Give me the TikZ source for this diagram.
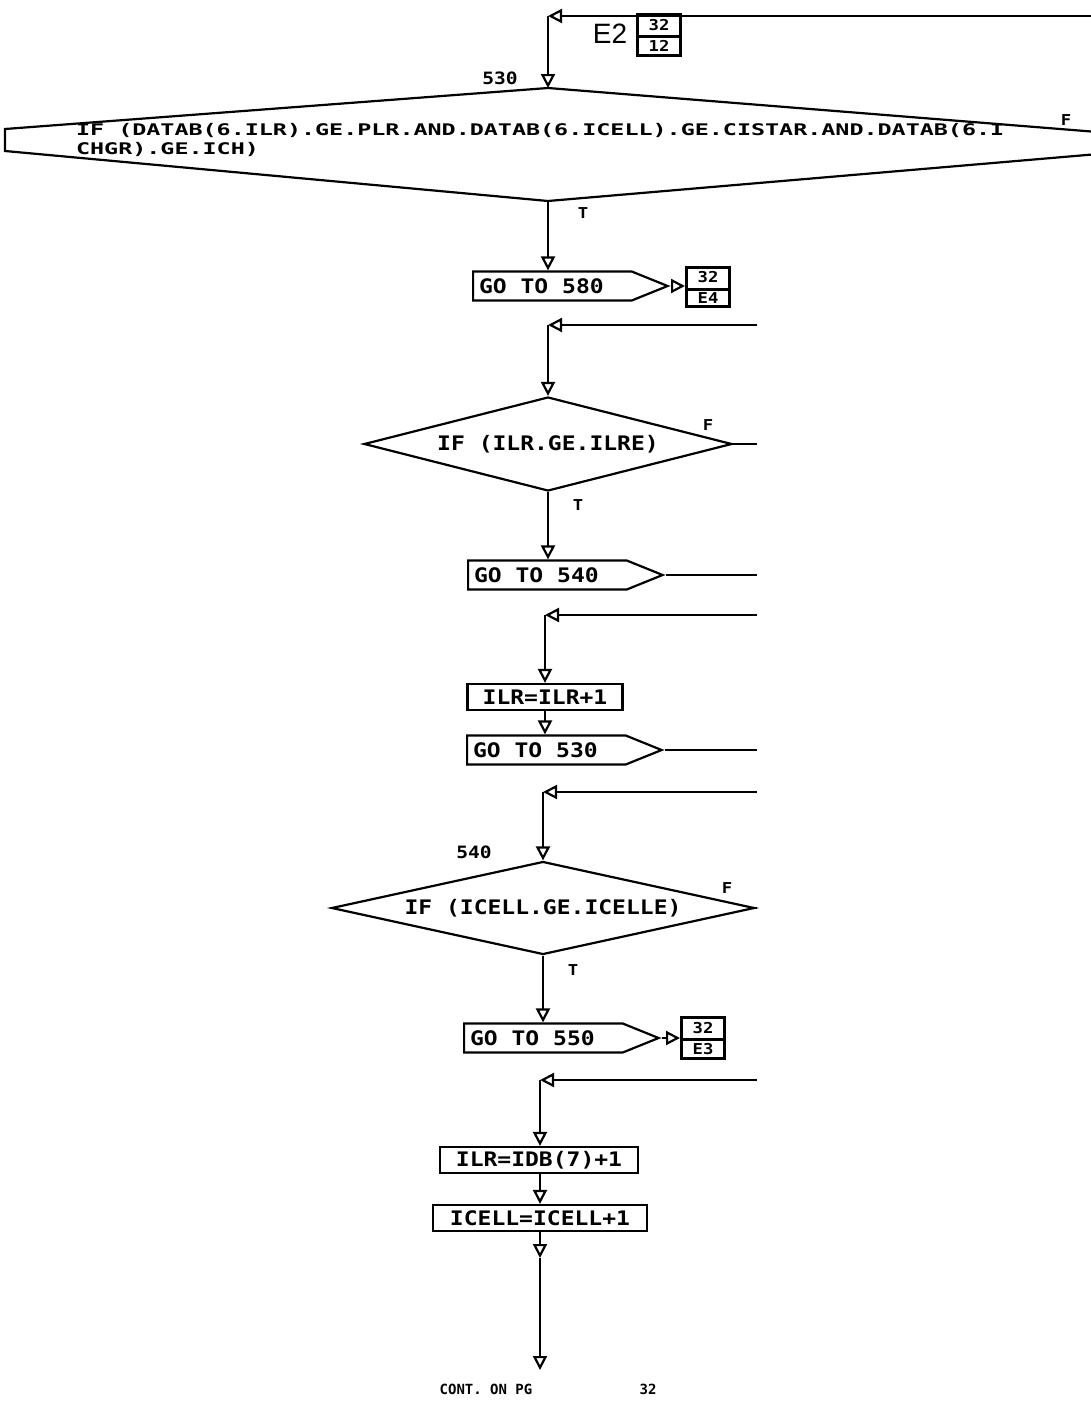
\documentclass[tikz,border=0pt]{standalone}
\usepackage{fontspec}
\newfontfamily\plotfont{DejaVu Sans Mono}[FakeStretch=1.15]
\newfontfamily\plotwide{DejaVu Sans Mono}[FakeStretch=1.46]
\newfontfamily\plotnarrow{DejaVu Sans Mono}
\newfontfamily\labelfont{Liberation Sans}
\usetikzlibrary{arrows.meta,positioning,shapes.geometric,shapes.symbols,shapes.multipart}

\begin{document}
\begin{tikzpicture}[
    x=1pt, y=-1pt,
    line width=2.2pt,
    >={Triangle[open, length=14pt, width=14pt]},
    font=\plotfont\bfseries\fontsize{20}{22}\selectfont,
    procbox/.style={draw, rectangle, minimum height=26pt, inner sep=3pt},
    gotobox/.style={draw, signal, signal to=east, signal pointer angle=44, minimum height=29pt, inner xsep=6pt, inner ysep=4pt, anchor=west, execute at end node={\hspace{22pt}}},
    decision/.style={draw, diamond, shape aspect=4.5, inner sep=0pt},
    pagebox/.style={draw, line width=3pt, rectangle split, rectangle split parts=2, font=\plotfont\bfseries\fontsize{15}{16}\selectfont, inner xsep=3pt, inner ysep=2pt, text height=12pt, text depth=3pt, minimum width=43pt, anchor=west},
    tflag/.style={font=\plotfont\bfseries\fontsize{15}{16}\selectfont},
    stmtno/.style={font=\plotfont\bfseries\fontsize{17}{18}\selectfont}
]
    \useasboundingbox (0,0) rectangle (1091,1408);
    \clip (0,0) rectangle (1091,1408);

    % entry E2 from page 32
    \coordinate (in530) at (1091,16);
    \coordinate (j530) at (548,16);
    \node[font=\labelfont\fontsize{28}{30}\selectfont] (e2) at (610,34) {E2};
    \node[pagebox] (pg12) at (636,35) {32\nodepart{two}12};
    \node[stmtno] (s530) at (500,78) {530};

    % statement 530
    \coordinate (if530n) at (548,88);
    \coordinate (if530s) at (548,201);
    \draw (if530n) -- (1110,133) -- (1110,153) -- (if530s) -- (5,151) -- (5,129) -- cycle;
    \node[font=\plotwide\bfseries\fontsize{16}{16}\selectfont, align=left, anchor=north west, inner sep=0pt] (if530txt) at (75,122)
        {IF (DATAB(6.ILR).GE.PLR.AND.DATAB(6.ICELL).GE.CISTAR.AND.DATAB(6.I\\[3pt]CHGR).GE.ICH)};
    \node[tflag] (f530) at (1066,120) {F};
    \node[tflag] (t530) at (583,213) {T};

    \node[gotobox] (go580) at (472,286) {GO TO 580};
    \node[pagebox] (pge4) at (685,287) {32\nodepart{two}E4};

    \draw[->] (in530) -- (j530);
    \draw[->] (j530) -- (if530n);
    \draw[->] (if530s) -- (go580.north -| if530s);
    \draw[->] (go580.east) -- (go580.east -| pge4.west);

    % ILR test
    \coordinate (in540a) at (757,325);
    \coordinate (jilr) at (548,325);
    \node[decision, minimum width=368pt, minimum height=94pt] (ifilr) at (548,444) {IF (ILR.GE.ILRE)};
    \coordinate (outilr) at (757,444);
    \node[tflag] (filr) at (708,425) {F};
    \node[tflag] (tilr) at (578,505) {T};
    \node[gotobox] (go540) at (467,575) {GO TO 540};
    \coordinate (out540) at (757,575);

    \draw[->] (in540a) -- (jilr);
    \draw[->] (jilr) -- (ifilr.north);
    \draw (ifilr.east) -- (outilr);
    \draw[->] (ifilr.south) -- (go540.north -| ifilr.south);
    \draw (go540.east) -- (out540);

    % next ILR
    \coordinate (in530b) at (757,615);
    \coordinate (jinc) at (545,615);
    \node[procbox, minimum width=155pt] (incilr) at (545,697) {ILR=ILR+1};
    \node[gotobox] (go530) at (466,750) {GO TO 530};
    \coordinate (out530) at (757,750);

    \draw[->] (in530b) -- (jinc);
    \draw[->] (jinc) -- (incilr.north -| jinc);
    \draw[->] (incilr.south) -- (incilr.south |- go530.north);
    \draw (go530.east) -- (out530);

    % statement 540
    \coordinate (in540b) at (757,792);
    \coordinate (j540) at (543,792);
    \node[stmtno] (s540) at (474,852) {540};
    \node[decision, minimum width=423pt, minimum height=93pt] (ifcell) at (543,908) {IF (ICELL.GE.ICELLE)};
    \coordinate (outcell) at (757,908);
    \node[tflag] (fcell) at (727,888) {F};
    \node[tflag] (tcell) at (573,970) {T};
    \node[gotobox] (go550) at (463,1038) {GO TO 550};
    \node[pagebox] (pge3) at (680,1038) {32\nodepart{two}E3};

    \draw[->] (in540b) -- (j540);
    \draw[->] (j540) -- (ifcell.north);
    \draw (ifcell.east) -- (outcell);
    \draw[->] (ifcell.south) -- (go550.north -| ifcell.south);
    \draw[->] (go550.east) -- (go550.east -| pge3.west);

    % next cell
    \coordinate (in560) at (757,1080);
    \coordinate (jres) at (540,1080);
    \node[procbox, minimum width=198pt] (resilr) at (539,1160) {ILR=IDB(7)+1};
    \node[procbox, minimum width=214pt] (inccell) at (540,1218) {ICELL=ICELL+1};
    \coordinate (mid) at (540,1258);
    \coordinate (cont) at (540,1370);
    \node[font=\plotnarrow\bfseries\fontsize{14}{15}\selectfont] (contpg) at (486,1389) {CONT. ON PG};
    \node[font=\plotnarrow\bfseries\fontsize{14}{15}\selectfont] (pgno) at (648,1389) {32};

    \draw[->] (in560) -- (jres);
    \draw[->] (jres) -- (resilr.north -| jres);
    \draw[->] (resilr.south -| jres) -- (inccell.north -| jres);
    \draw[->] (inccell.south -| jres) -- (mid);
    \draw[->] (mid) -- (cont);
\end{tikzpicture}
\end{document}
